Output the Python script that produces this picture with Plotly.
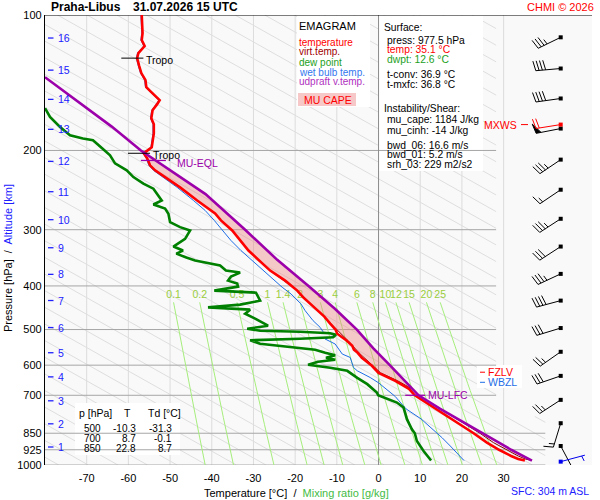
import math
import numpy as np
import plotly.graph_objects as go

# ---------------- sounding profiles: pressure [hPa] / temperature [°C] ----------------
temp_p = [100.0, 105.3, 109.7, 113.7, 117.2, 121.5, 124.7, 129.9, 134.6, 139.6,
          144.7, 148.4, 154.6, 157.8, 162.8, 169.6, 174.9, 183.2, 189.9, 196.8,
          200.9, 202.9, 208.2, 215.8, 221.4, 230.7, 241.6, 258.3, 276.1, 286.1,
          301.2, 333.8, 369.8, 389.3, 409.7, 424.7, 447.0, 468.1, 485.2, 500.5,
          510.9, 529.6, 543.3, 554.6, 563.2, 577.8, 602.0, 624.0, 650.1, 677.3,
          700.0, 745.4, 777.8, 811.7, 850.0, 892.0, 925.0, 954.9, 969.7, 977.5]
temp_t = [-56.8, -56.7, -56.6, -56.8, -56.1, -57.6, -57.9, -57.4, -56.9, -55.9,
          -55.7, -54.5, -52.5, -53.1, -54.2, -54.5, -53.9, -53.9, -54.1, -54.4,
          -55.7, -56.3, -55.5, -54.8, -53.6, -50.8, -47.6, -43.5, -39.2, -37.8,
          -35.1, -31.2, -26.0, -22.4, -19.5, -18.0, -15.4, -13.0, -11.6, -10.3,
          -9.9, -7.6, -6.3, -5.9, -5.0, -4.0, -1.6, 0.0, 4.0, 7.3,
          8.7, 13.2, 16.4, 19.6, 22.8, 26.0, 28.9, 31.8, 33.5, 35.1]

virt_p = [100.0, 105.3, 109.7, 113.7, 117.2, 121.5, 124.7, 129.9, 134.6, 139.6,
          144.7, 148.4, 154.6, 157.8, 162.8, 169.6, 174.9, 183.2, 189.9, 196.8,
          200.9, 202.9, 208.2, 215.8, 221.4, 230.7, 241.6, 258.3, 276.1, 286.1,
          301.2, 333.8, 369.8, 409.7, 447.0, 485.2, 500.5, 529.6, 563.2, 602.0,
          624.0, 650.1, 677.3, 700.0, 745.4, 777.8, 811.7, 850.0, 892.0, 925.0,
          954.9, 969.7, 977.5]
virt_t = [-56.8, -56.7, -56.6, -56.8, -56.1, -57.6, -57.9, -57.4, -56.9, -55.9,
          -55.7, -54.5, -52.5, -53.1, -54.2, -54.5, -53.9, -53.9, -54.1, -54.4,
          -55.7, -56.3, -55.5, -54.8, -53.6, -50.8, -47.6, -43.5, -39.2, -37.8,
          -35.1, -31.2, -26.0, -19.4, -15.3, -11.4, -10.1, -7.3, -4.7, -1.2,
          0.5, 4.6, 8.0, 9.6, 14.3, 17.6, 20.9, 24.3, 27.6, 30.6,
          33.5, 35.2, 36.8]

dwpt_p = [161.1, 168.5, 177.3, 185.1, 188.2, 189.9, 197.8, 205.0, 213.6, 221.4,
          229.2, 237.0, 243.2, 249.5, 258.3, 263.7, 269.1, 276.5, 288.7, 296.1,
          301.2, 314.3, 327.0, 333.8, 339.0, 346.0, 351.3, 360.4, 369.8, 373.6,
          381.4, 389.3, 395.3, 401.4, 409.7, 414.0, 422.5, 431.3, 440.2, 446.3,
          451.6, 461.0, 473.0, 482.0, 490.3, 497.9, 503.0, 505.6, 509.5, 513.4,
          520.1, 524.1, 528.1, 537.8, 546.1, 554.6, 563.2, 570.4, 577.8, 583.8,
          589.8, 598.9, 608.2, 617.6, 640.2, 661.2, 690.3, 700.0, 726.5, 745.4,
          791.1, 832.7, 850.0, 884.3, 930.8, 963.3, 977.5]
dwpt_t = [-80.0, -78.8, -76.4, -74.0, -70.9, -68.5, -66.3, -64.4, -63.2, -60.4,
          -58.8, -56.4, -54.0, -53.2, -52.0, -54.0, -51.2, -50.4, -50.0, -47.6,
          -45.2, -46.4, -49.2, -46.9, -48.5, -46.1, -44.0, -38.0, -36.6, -33.2,
          -35.4, -36.1, -33.9, -33.7, -39.4, -29.4, -28.9, -28.4, -33.2, -40.9,
          -30.8, -32.0, -29.6, -27.9, -26.5, -31.5, -28.4, -18.8, -11.6, -10.2,
          -10.9, -18.8, -30.8, -28.4, -21.2, -15.2, -12.8, -10.4, -12.6, -10.4,
          -14.5, -16.9, -11.6, -7.5, -5.1, -2.7, -0.4, -0.1, 4.4, 6.0,
          6.8, 8.0, 8.7, 9.2, 10.8, 12.0, 12.6]

wetb_p = [100.0, 105.3, 109.7, 113.7, 117.2, 121.5, 124.7, 129.9, 134.6, 139.6,
          144.7, 148.4, 154.6, 157.8, 162.8, 169.6, 174.9, 183.2, 189.9, 196.8,
          200.9, 202.9, 208.2, 215.8, 221.4, 230.7, 241.6, 258.3, 271.8, 286.1,
          301.2, 317.0, 333.7, 351.3, 369.8, 402.8, 416.7, 438.6, 454.0, 477.8,
          494.5, 507.4, 511.6, 516.1, 524.9, 538.5, 566.8, 576.8, 591.8, 607.2,
          617.5, 639.1, 656.7, 684.2, 704.1, 720.2, 750.4, 789.9, 831.4, 870.7,
          907.2, 940.3, 977.5]
wetb_t = [-57.0, -56.9, -56.8, -57.0, -56.3, -57.8, -58.1, -57.6, -57.1, -56.1,
          -55.9, -54.7, -52.7, -53.3, -54.4, -54.7, -54.1, -54.1, -54.3, -54.6,
          -55.9, -56.5, -55.7, -55.1, -54.0, -51.4, -48.3, -44.4, -41.6, -39.4,
          -37.3, -35.4, -33.0, -30.3, -27.7, -23.1, -21.0, -18.6, -17.6, -15.7,
          -14.0, -13.2, -11.2, -10.7, -12.8, -10.4, -8.7, -6.8, -6.4, -6.0,
          -5.1, -2.0, 0.0, 2.3, 4.0, 4.9, 6.6, 10.2, 12.9, 15.3,
          17.2, 18.9, 20.5]

# most-unstable parcel (virtual temperature)
parc_p = [137.5, 153.0, 168.7, 177.0, 200.0, 210.0, 230.0, 250.0, 300.0, 350.0, 400.0,
          450.0, 500.0, 550.0, 600.0, 650.0, 700.0, 750.0, 800.0, 850.0, 925.0, 977.5]
parc_t = [-80.0, -73.2, -67.0, -64.0, -57.0, -53.6, -47.3, -41.5, -32.0, -24.3, -16.8,
          -10.4, -5.2, -1.3, 2.7, 6.3, 9.6, 14.8, 20.0, 24.9, 31.8, 36.8]

# special levels
lfc_p, lfc_t = 700.0, 9.6
eql_p, eql_t = 210.5, -54.0
cape_top_p = 206.0
tropo_p = [124.7, 202.9]
tropo_t = [-57.9, -56.3]
fzlv_p = 622.0
wbzl_p = 655.0

alt_km = list(range(1, 17))
alt_p = [912, 810, 720, 637, 563, 495, 431, 377, 329, 285, 247, 211.5, 179.5, 154, 132.6, 112.5]

# winds (direction [deg], speed [kt])
wind_p = [112.1, 131.5, 153.3, 178.8, 209.6, 244.5, 283.7, 327.0, 376.1, 431.2,
          496.2, 560.3, 633.8, 716.6, 807.5, 907.2]
wind_dir = [244, 265, 262, 259, 236, 236, 237, 237, 245, 255, 253, 235, 251, 237, 197, 152]
wind_kt = [35, 40, 40, 50, 35, 15, 35, 30, 35, 40, 30, 25, 30, 25, 15, 10]
mxws_p, mxws_dir, mxws_kt = 175.2, 261, 20
sfc_p, sfc_dir, sfc_kt = 983.0, 75, 3

mix_w = [0.1, 0.2, 0.5, 1, 1.4, 2, 3, 4, 6, 8, 10, 12, 15, 20, 25]
p_ticks = [100, 200, 300, 400, 500, 600, 700, 850, 925, 1000]
t_ticks = [-70, -60, -50, -40, -30, -20, -10, 0, 10, 20, 30]

tab_p = [500, 700, 850]
tab_t = [-10.3, 8.7, 22.8]
tab_td = [-31.3, -0.1, 8.7]

# ---------------- geometry ----------------
W, H = 600, 500
ML, MR, MT, MB = 45, 8, 15, 35
PW, PH = W - ML - MR, H - MT - MB
XMIN, XMAX = -80.0, 51.2
FONT = "Liberation Sans, Arial, sans-serif"
BLUE = "#2020ff"
GREEN_TXT = "#22a022"


def px2t(px):
    return XMIN + (px - ML) / PW * (XMAX - XMIN)


def py2p(py):
    return 100 * 10 ** ((py - MT) / PH)


def paper(px, py):
    return (px - ML) / PW, (H - MB - py) / PH


def td_of_w(w, p):
    e = w * p / (622.0 + w)
    l = math.log(e / 6.112)
    return 243.5 * l / (17.67 - l)


shapes = []


def seg(x0, y0, x1, y1, color, width=1):
    shapes.append(dict(type="line", xref="x", yref="y", x0=x0, y0=y0, x1=x1, y1=y1,
                       line=dict(color=color, width=width), layer="below"))


def box(px0, py0, px1, py1, color):
    shapes.append(dict(type="rect", xref="x", yref="y", x0=px2t(px0), x1=px2t(px1),
                       y0=py2p(py0), y1=py2p(py1), fillcolor=color, line_width=0, layer="below"))


# vertical isotherms
for t in t_ticks:
    if t != 0:
        seg(t, 100, t, 1000, "#dcdcdc")

# diagonal background lines (straight in T / log p)
K, C0, DC = 192.0, 136.3, 7.1
for n in range(-16, 33):
    c = C0 - DC * n
    for pa, pb, tmax in [(100.0, 780.0, 28.2), (780.0, 1000.0, 40.0)]:
        plo = max(pa, 1000 * 10 ** ((XMIN - c) / K))
        phi = min(pb, 1000 * 10 ** ((tmax - c) / K))
        if plo < phi:
            seg(c + K * math.log10(plo / 1000), plo, c + K * math.log10(phi / 1000), phi, "#dedede")

# text boxes
box(297, 15.5, 370, 107, "white")
box(298, 93, 356, 106, "#f7c8c8")
box(378.4, 15.5, 483, 171, "white")
box(75, 403, 180, 455, "white")
box(477, 365, 522, 388, "white")

# isobars
for p in p_ticks[1:]:
    seg(XMIN, p, 28.2 if p <= 700 else 40.0, p, "#a6a6a6")
seg(0, 100, 0, 1000, "#8c8c8c")
seg(XMIN, 100, XMAX, 100, "black")

fig = go.Figure()

# mixing ratio lines + labels
mx, my = [], []
for w in mix_w:
    ps = np.geomspace(435, 1000, 25)
    mx += [td_of_w(w, p) for p in ps] + [None]
    my += list(ps) + [None]
fig.add_trace(go.Scatter(x=mx, y=my, mode="lines", line=dict(color="#a6ee7c", width=1),
                         hoverinfo="skip"))
fig.add_trace(go.Scatter(x=[td_of_w(w, 435) for w in mix_w], y=[419] * len(mix_w),
                         mode="text", text=[f"{w:g}" for w in mix_w],
                         textfont=dict(family=FONT, size=10.5, color="#9acd3c"), hoverinfo="skip"))

# CAPE area between parcel and virtual temperature
grid = np.geomspace(cape_top_p, lfc_p, 80)
lg = np.log(grid)
pi = np.interp(lg, np.log(parc_p), parc_t)
vi = np.interp(lg, np.log(virt_p), virt_t)
fig.add_trace(go.Scatter(x=list(pi) + list(vi[::-1]), y=list(grid) + list(grid[::-1]),
                         mode="lines", fill="toself", fillcolor="rgba(240,128,128,0.40)",
                         line=dict(width=0), hoverinfo="skip"))

fig.add_trace(go.Scatter(x=virt_t, y=virt_p, mode="lines", line=dict(color="#8b0000", width=1)))
fig.add_trace(go.Scatter(x=wetb_t, y=wetb_p, mode="lines", line=dict(color="#1e6ee6", width=1)))
fig.add_trace(go.Scatter(x=dwpt_t, y=dwpt_p, mode="lines", line=dict(color="#008000", width=2.6)))
fig.add_trace(go.Scatter(x=temp_t, y=temp_p, mode="lines", line=dict(color="#ff0000", width=2.6)))
fig.add_trace(go.Scatter(x=parc_t, y=parc_p, mode="lines", line=dict(color="#9c00aa", width=2.6)))

# level markers
tx, ty = [], []
for p, t in zip(tropo_p, tropo_t):
    tx += [t - 3.8, t + 1.5, None]
    ty += [p, p, None]
fig.add_trace(go.Scatter(x=tx, y=ty, mode="lines", line=dict(color="black", width=1)))
fig.add_trace(go.Scatter(x=[eql_t - 3.0, eql_t + 3.0, None, lfc_t - 3.2, lfc_t + 1.6],
                         y=[eql_p, eql_p, None, lfc_p, lfc_p], mode="lines",
                         line=dict(color="#9c00aa", width=1.3)))

# ---------------- overlay in pixel units (x2) ----------------
ax, ay = [], []
for p in alt_p:
    ax += [3, 8.5, None]
    ay += [p, p, None]
fig.add_trace(go.Scatter(x=ax, y=ay, xaxis="x2", mode="lines", line=dict(color=BLUE, width=1.3)))
fig.add_trace(go.Scatter(x=[435, 440, None, 476, 483],
                         y=[fzlv_p, fzlv_p, None, mxws_p, mxws_p],
                         xaxis="x2", mode="lines", line=dict(color="#ff0000", width=1)))
fig.add_trace(go.Scatter(x=[435, 440], y=[wbzl_p, wbzl_p], xaxis="x2", mode="lines",
                         line=dict(color="#1e6ee6", width=1)))

BX = 515.7  # barb base (px from plot left)


def barb(p0, ddeg, kt, L=25.0, blen=10.0, gap=3.3):
    r = math.radians(ddeg)
    d = (math.sin(r), math.cos(r))
    b = (d[1], -d[0])
    a = math.radians(12)
    bb = (math.cos(a) * b[0] + math.sin(a) * d[0], math.cos(a) * b[1] + math.sin(a) * d[1])

    def pt(u, v):
        return BX + u, p0 * 10 ** (-v / PH)

    lines = [[pt(0, 0), pt(L * d[0], L * d[1])]]
    tris = []
    k = int(5 * round(kt / 5.0))
    n50, k = divmod(k, 50)
    n10, k = divmod(k, 10)
    n5 = k // 5
    s = L
    for _ in range(n50):
        tris.append([pt(s * d[0], s * d[1]),
                     pt(s * d[0] + blen * bb[0], s * d[1] + blen * bb[1]),
                     pt((s - 5) * d[0], (s - 5) * d[1])])
        s -= 6
    for _ in range(n10):
        lines.append([pt(s * d[0], s * d[1]), pt(s * d[0] + blen * bb[0], s * d[1] + blen * bb[1])])
        s -= gap
    if n5:
        if n50 == 0 and n10 == 0:
            s -= gap
        lines.append([pt(s * d[0], s * d[1]), pt(s * d[0] + 0.55 * blen * bb[0], s * d[1] + 0.55 * blen * bb[1])])
    return lines, tris


def add_barbs(levels, color):
    lx, ly, fx, fy, dx, dy = [], [], [], [], [], []
    for p, dd, kt in levels:
        lines, tris = barb(p, dd, kt)
        for l in lines:
            lx += [l[0][0], l[1][0], None]
            ly += [l[0][1], l[1][1], None]
        for tr in tris:
            fx += [q[0] for q in tr] + [None]
            fy += [q[1] for q in tr] + [None]
        dx.append(BX)
        dy.append(p)
    fig.add_trace(go.Scatter(x=lx, y=ly, xaxis="x2", mode="lines", line=dict(color=color, width=1)))
    if fx:
        fig.add_trace(go.Scatter(x=fx, y=fy, xaxis="x2", mode="lines", fill="toself",
                                 fillcolor=color, line=dict(color=color, width=1)))
    fig.add_trace(go.Scatter(x=dx, y=dy, xaxis="x2", mode="markers",
                             marker=dict(symbol="square", size=4, color=color)))


add_barbs(list(zip(wind_p, wind_dir, wind_kt)), "black")
add_barbs([(mxws_p, mxws_dir, mxws_kt)], "#ff0000")
add_barbs([(sfc_p, sfc_dir, sfc_kt)], "#0000ee")

# ---------------- annotations ----------------
ann = []


def txt(px, py, s, color="black", size=10.5, xanchor="left", bold=False, angle=0):
    x, y = paper(px, py)
    if bold:
        s = "<b>" + s + "</b>"
    ann.append(dict(x=x, y=y, xref="paper", yref="paper", text=s, showarrow=False,
                    xanchor=xanchor, yanchor="middle", borderpad=0, textangle=angle,
                    font=dict(family=FONT, size=size, color=color)))


def dtxt(x, p, s, color, xref="x", xanchor="left", size=10.5):
    ann.append(dict(x=x, y=math.log10(p), xref=xref, yref="y", text=s, showarrow=False,
                    xanchor=xanchor, yanchor="middle", borderpad=0,
                    font=dict(family=FONT, size=size, color=color)))


txt(50, 7, "Praha-Libus", size=12, bold=True)
txt(131.5, 7, "31.07.2026 15 UTC", size=12, bold=True)
txt(595, 7, "CHMI © 2026", color="#ff0000", size=11, xanchor="right")
txt(8, 258, "Pressure [hPa]\u00a0 /\u00a0 <span style='color:%s'>Altitude [km]</span>" % BLUE,
    size=11, xanchor="center", angle=-90)
txt(296, 493, "Temperature [°C]\u00a0 /\u00a0 <span style='color:#44bb44'>Mixing ratio [g/kg]</span>",
    size=11, xanchor="center")
txt(590, 491, "SFC: 304 m ASL", color=BLUE, size=10.5, xanchor="right")

legend_lines = [("EMAGRAM", "black", 26, 11), ("temperature", "#ff0000", 42, 10),
                ("virt.temp.", "#a00000", 52, 10), ("dew point", GREEN_TXT, 62, 10),
                ("wet bulb temp.", "#3377ee", 72, 10), ("udpraft v.temp.", "#b030c0", 82, 10)]
for s, c, y, sz in legend_lines:
    txt(298.3, y, s, color=c, size=sz)
txt(303, 100, "MU CAPE", color="#ff0000", size=10.5)

info_lines = [("Surface:", "black", 382.7, 27.7), ("press: 977.5 hPa", "black", 386, 40),
              ("temp: 35.1 °C", "#ff0000", 386, 50), ("dwpt: 12.6 °C", GREEN_TXT, 386, 60),
              ("t-conv: 36.9 °C", "black", 386, 74.3), ("t-mxfc: 36.8 °C", "black", 386, 84.3),
              ("Instability/Shear:", "black", 382.7, 108.3), ("mu_cape: 1184 J/kg", "black", 386, 119.5),
              ("mu_cinh: -14 J/kg", "black", 386, 130), ("bwd_06: 16.6 m/s", "black", 386, 145),
              ("bwd_01: 5.2 m/s", "black", 386, 154.5), ("srh_03: 229 m2/s2", "black", 386, 164.5)]
for s, c, x, y in info_lines:
    txt(x, y, s, color=c, size=10.3)

# table of standard levels
txt(78, 413, "p [hPa]")
txt(127, 413, "T", xanchor="center")
txt(147, 413, "Td [°C]")
for i, (p, t, td) in enumerate(zip(tab_p, tab_t, tab_td)):
    y = 428 + i * 10
    txt(102, y, f"{p}", xanchor="right", size=10)
    txt(137, y, f"{t:.1f}", xanchor="right", size=10)
    txt(173, y, f"{td:.1f}", xanchor="right", size=10)

# level labels
for p, t in zip(tropo_p, tropo_t):
    dtxt(t + 2.0, p * 1.01, "Tropo", "black")
dtxt(eql_t + 5.5, eql_p * 1.012, "MU-EQL", "#9c00aa")
dtxt(lfc_t + 2.1, lfc_p, "MU-LFC", "#9c00aa")
dtxt(442, fzlv_p, "FZLV", "#ff0000", xref="x2")
dtxt(442, wbzl_p, "WBZL", "#1e6ee6", xref="x2")
dtxt(473, mxws_p, "MXWS", "#ff0000", xref="x2", xanchor="right")
for km, p in zip(alt_km, alt_p):
    dtxt(12, p, str(km), BLUE, xref="x2", size=10.5)

fig.update_layout(
    width=W, height=H, margin=dict(l=ML, r=MR, t=MT, b=MB),
    paper_bgcolor="white", plot_bgcolor="#f9f9f9", showlegend=False,
    font=dict(family=FONT, size=11, color="black"),
    shapes=shapes, annotations=ann,
    xaxis=dict(range=[XMIN, XMAX], tickvals=t_ticks, ticktext=[str(t) for t in t_ticks],
               showgrid=False, zeroline=False, showline=False, ticks="outside", ticklen=3,
               tickcolor="rgba(0,0,0,0)", tickfont=dict(size=11)),
    xaxis2=dict(range=[0, PW], overlaying="x", anchor="y", visible=False),
    yaxis=dict(type="log", range=[3, 2], tickvals=p_ticks, ticktext=[str(p) for p in p_ticks],
               showgrid=False, zeroline=False, showline=True, linecolor="black", linewidth=1.2,
               ticks="", tickfont=dict(size=11)),
)

fig.write_html("out.html", config={"displayModeBar": False},
               post_script="document.body.style.margin='0';")
